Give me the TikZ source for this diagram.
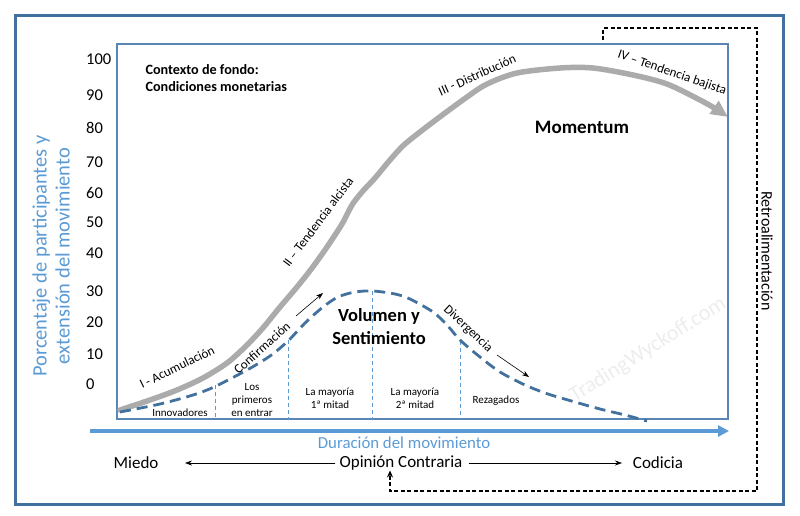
\documentclass[tikz,border=0pt]{standalone}
\usepackage{fontspec}
\setmainfont{Carlito}
\usetikzlibrary{arrows.meta}
\definecolor{frameblue}{HTML}{41719C}
\definecolor{boxblue}{HTML}{5A86B5}
\definecolor{lightblue}{HTML}{5B9BD5}
\definecolor{curvegray}{HTML}{ABABAB}
\tikzset{
  lbl/.style={font=\fontsize{13}{13}\selectfont, inner sep=1pt},
  seg/.style={font=\fontsize{11}{13}\selectfont, align=center, inner sep=0pt},
  ytick/.style={font=\fontsize{16.5}{16.5}\selectfont, anchor=west, inner sep=0pt},
  big/.style={font=\fontsize{17}{17}\selectfont, inner sep=0pt},
  divider/.style={lightblue, line width=0.9pt, dash pattern=on 4pt off 3pt},
  thinarrow/.style={-{Stealth[length=7pt,width=5pt]}, line width=0.6pt}
}
\begin{document}
\begin{tikzpicture}[x=1pt,y=-1pt]
\useasboundingbox (0,0) rectangle (800,515);
% outer frame
\draw[frameblue, line width=3pt] (15.5,15.5) rectangle (783.5,504);
% plot box
\draw[boxblue, line width=1.3pt] (117,44) rectangle (728,419);
% watermark
\node[text=black!7, rotate=32, font=\fontsize{22}{22}\selectfont] (wm) at (648,350) {TradingWyckoff.com};
% y ticks
\foreach \v/\y in {100/59,90/95,80/128,70/162,60/193,50/222,40/253,30/291,20/322,10/354,0/384}
  \node[ytick] (t\v) at (86,\y) {\v};
% y title
\node[text=lightblue, rotate=90, align=center, font=\fontsize{20.5}{23}\selectfont] (ytitle) at (51,256)
  {Porcentaje de participantes y\\extensión del movimiento};
% context
\node[anchor=west, align=left, font=\bfseries\fontsize{14.2}{17}\selectfont] (ctx) at (142,78)
  {Contexto de fondo:\\Condiciones monetarias};
% gray curve
\draw[curvegray, line width=5.5pt, line cap=round, -{Triangle[length=17pt,width=15pt]}]
  plot[smooth, tension=0.5] coordinates {(120,410) (150,400) (177,390) (203,378) (227,363) (245,347) (262,329) (280,307) (297,287) (312,268) (327,247) (342,224) (352,205) (362,192) (375,178) (390,160) (405,144) (433,122) (467,97) (487,84) (517,73) (560,68) (593,68) (633,75) (667,84) (700,100) (716,109) (728,117)};
% dividers
\coordinate (d1) at (215,385);
\coordinate (d2) at (288,340);
\coordinate (d3) at (372,291);
\coordinate (d4) at (460,341);
\draw[divider] (d1) -- (215,419);
\draw[divider] (d2) -- (288,419);
\draw[divider] (d3) -- (372,419);
\draw[divider] (d4) -- (460,419);
% blue dashed curve
\draw[frameblue, line width=2.8pt, dash pattern=on 11pt off 6pt]
  plot[smooth, tension=0.5] coordinates {(120,412) (160,404) (193,395) (214,387) (247,370) (270,356) (288,341) (305,323) (323,307) (338,297) (355,292) (373,291) (395,294) (410,299) (433,312) (447,325) (460,340) (480,357) (500,372) (525,385) (548,394) (575,402) (600,409) (625,415) (647,421)};
% segment labels
\node[seg] (s1) at (180,413) {Innovadores};
\node[seg] (s2) at (252,400) {Los\\primeros\\en entrar};
\node[seg] (s3) at (330,398) {La mayoría\\1ª mitad};
\node[seg] (s4) at (415,398) {La mayoría\\2ª mitad};
\node[seg] (s5) at (496,401) {Rezagados};
% phase labels
\node[lbl, rotate=26] (p1) at (177,367) {I - Acumulación};
\node[lbl, rotate=42] (p1b) at (262,348) {Confirmación};
\node[lbl, rotate=53] (p2) at (318,222) {II – Tendencia alcista};
\node[lbl, rotate=24] (p3) at (477,75) {III - Distribución};
\node[lbl, rotate=-19] (p4) at (672,73) {IV – Tendencia bajista};
\node[lbl, rotate=-43] (p5) at (468,329) {Divergencia};
% small arrows
\coordinate (ca1) at (296,316);
\coordinate (ca2) at (323,293);
\draw[thinarrow] (ca1) -- (ca2);
\coordinate (da1) at (497,355);
\coordinate (da2) at (529,377);
\draw[thinarrow] (da1) -- (da2);
% big titles
\node[font=\bfseries\fontsize{19}{19}\selectfont] (mom) at (582,127) {Momentum};
\node[font=\bfseries\fontsize{18.5}{23}\selectfont, align=center] (vol) at (379,327) {Volumen y\\Sentimiento};
% x axis
\coordinate (xa) at (90,431);
\coordinate (xb) at (729,431);
\draw[lightblue, line width=3.5pt, -{Triangle[length=11pt,width=11pt]}] (xa) -- (xb);
\node[font=\fontsize{16.8}{16.8}\selectfont, inner sep=0pt, text=lightblue] (xtitle) at (404,443) {Duración del movimiento};
% sentiment row
\node[big] (miedo) at (136,463) {Miedo};
\node[big] (opin) at (401,463) {Opinión Contraria};
\node[big] (codicia) at (658,463) {Codicia};
\draw[thinarrow] (opin.west) ++(-4,0) coordinate (oa) -- (miedo.east -| 185,0);
\draw[thinarrow] (opin.east) ++(6,0) coordinate (ob) -- (codicia.west -| 622,0);
% feedback loop
\coordinate (f0) at (603,40);
\coordinate (f1) at (603,28);
\coordinate (f2) at (757,28);
\coordinate (f3) at (757,491);
\coordinate (f4) at (390,491);
\draw[line width=1.3pt, dash pattern=on 4pt off 2.5pt, -{Stealth[length=7pt,width=6pt]}]
  (f0) -- (f1) -- (f2) -- (f3) -- (f4) -- (opin.south -| f4);
\node[rotate=-90, font=\fontsize{16}{16}\selectfont] (retro) at (767,251) {Retroalimentación};
\end{tikzpicture}
\end{document}
